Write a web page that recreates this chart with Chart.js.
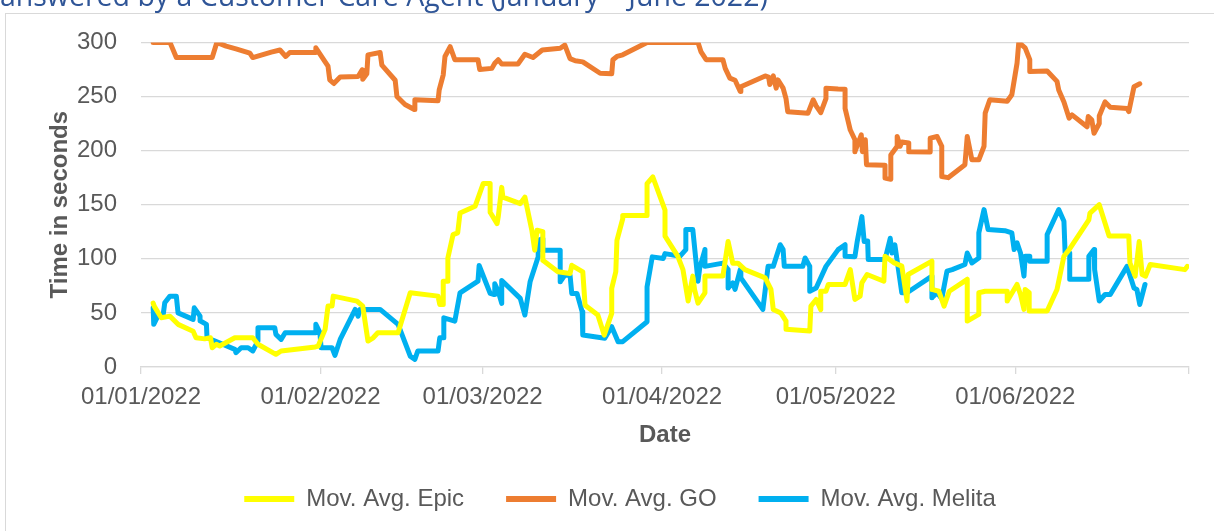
<!DOCTYPE html>
<html><head><meta charset="utf-8">
<script src="https://cdn.jsdelivr.net/npm/chart.js@4.4.1/dist/chart.umd.min.js"></script>
<style>
html,body{margin:0;padding:0;background:#fff;overflow:hidden;width:1214px;height:531px;position:relative}
#title{position:absolute;left:0;top:0;font-family:'Open Sans',sans-serif;font-size:26px;line-height:30px;color:#2F5597;white-space:nowrap}
#mark{display:inline-block;width:0;height:0}
#box{position:absolute;left:5px;top:13px;width:1240px;height:540px;border:1px solid #D9D9D9;background:#fff}
#wrap{position:absolute;left:0;top:-10px;width:1228px;height:528px}
#c{display:block}
</style></head><body>
<div id="box"><div id="wrap"><canvas id="c" width="1228" height="528"></canvas></div></div>
<div id="title">answered by a Customer Care Agent (January – June 2022)<span id="mark"></span></div>
<script>
// ---- data (x = days since 01/01/2022) ----
const monthTickDays = [0, 31, 59, 90, 120, 151, 181];
const monthTickLabels = ['01/01/2022','01/02/2022','01/03/2022','01/04/2022','01/05/2022','01/06/2022',''];
const seriesNames = ['Mov. Avg. Epic','Mov. Avg. GO','Mov. Avg. Melita'];

const epicDays = [
 2.1,2.3,3.5,5.0,6.4,9.0,9.5,11.0,12.0,12.3,
 13.0,13.6,16.2,19.3,20.2,23.3,24.2,30.1,30.6,31.8,
 32.3,33.0,33.2,37.3,38.3,39.2,40.1,40.9,44.4,46.5,
 51.3,51.6,52.2,52.2,52.9,53.0,53.9,54.7,55.1,57.7,
 59.1,60.3,60.3,61.5,61.7,62.3,62.5,65.5,66.3,67.5,
 68.0,68.4,69.4,69.4,72.0,74.1,74.4,76.3,76.7,78.9,
 80.0,81.3,81.3,82.0,82.2,83.2,83.2,87.4,87.4,88.4,
 90.5,90.5,92.7,93.6,94.5,95.3,95.6,96.2,97.4,97.4,
 100.5,101.4,102.2,103.1,104.3,107.8,108.8,109.2,110.5,111.4,
 111.4,115.5,115.7,116.6,117.4,117.4,118.3,118.7,121.6,122.5,
 123.3,124.2,124.5,125.4,128.3,128.5,130.1,131.4,132.3,132.5,
 136.6,136.6,137.8,138.7,139.6,142.7,142.7,144.7,144.7,145.8,
 149.6,149.6,151.3,151.9,152.5,152.7,153.4,153.4,156.5,158.2,
 159.4,160.3,163.7,163.9,165.5,167.2,170.6,170.8,171.7,172.4,
 172.9,173.5,174.3,180.3,180.7];
const epicValues = [
 59,56,45.5,47,39.4,33,27,26,27,17.8,
 21,19.4,27,27,21,11.7,14.8,18.5,19.4,34.8,
 56.3,56.3,65.5,60.9,56.3,24,27,31.7,31.7,68.6,
 65.5,57.8,57.8,79.3,79.3,100.8,122.4,124,142.3,148.5,
 169.5,169.5,143,132.5,138.7,166,157,151,157,126.4,
 108,126.4,125,98.7,88,86.4,94,88,57,48,
 29.5,49.5,72.6,88,117,137,140,140,169.5,175.6,
 145,121,102.4,90,61,84,71.7,59,68.6,84,
 84,116,96,96,90,82.4,71.7,53.2,50,42.4,
 34.8,33.2,56.3,62.4,53,70,70,76.3,76.3,90,
 62.4,65.5,77.8,85.5,79.3,102.4,96.2,93.2,61,85.5,
 97.8,71.7,70,56.3,70,81,42.4,48.6,68.6,70,
 70,61,76.3,67,53.2,71.7,68.6,51.7,51.7,71.7,
 102.4,108.5,136,142.3,150,121,121,96.2,84,116,
 85.5,84,94.7,90,93];

const goDays = [
 2.1,5.0,6.1,12.3,13.1,14.7,16.4,18.8,19.3,22.5,
 24.0,25.0,25.7,30.1,30.2,31.8,32.3,32.6,33.3,34.4,
 37.5,38.2,38.3,39.0,39.2,41.3,41.6,43.9,44.2,45.6,
 47.2,47.3,51.3,51.5,52.2,52.5,53.4,54.2,58.2,58.5,
 60.6,61.1,61.7,62.3,65.1,66.3,67.7,69.3,72.4,73.2,
 74.1,75.0,76.3,79.3,81.3,81.5,82.2,83.2,87.4,96.2,
 96.7,97.6,100.5,100.9,101.7,102.6,103.5,103.6,107.8,108.4,
 108.6,109.2,109.7,110.0,110.9,111.4,111.7,115.2,116.1,116.6,
 117.4,118.3,118.3,120.4,121.6,121.6,122.5,123.3,123.3,124.4,
 124.6,125.1,125.3,128.5,128.5,129.5,129.5,130.6,130.6,131.1,
 131.4,132.6,132.6,136.3,136.3,137.5,138.3,138.3,139.4,142.3,
 142.7,143.5,144.7,145.6,145.8,146.6,149.6,150.4,151.3,151.6,
 152.7,153.5,153.5,156.5,158.2,158.5,159.4,160.3,160.8,163.4,
 163.6,164.2,164.6,165.5,165.5,166.5,167.4,170.3,170.6,171.5,
 172.5];
const goValues = [
 300,300,286,286,300,296.5,294,290,286,291,
 293,287,290.6,290.6,295,282,278,265.4,262,268,
 268.5,274.6,266,271,288.5,290.6,279,265,250,242.6,
 238,247,246,256,270,287,296,284,284,275,
 276,280.7,284,280,280,289,286,293,294.6,297.5,
 285,283,282,271.5,271,284,287,288.5,300,300,
 291.5,284,284,276,267,265,254.6,259,269,268,
 261,269,257.7,265.4,257.7,248,236,234.6,247,241.4,
 235,248,257.7,257,256.8,239,219,210,199,214.6,
 199,210,187,186.5,174.6,173.5,196,204,213,204,
 208,207,199,198.6,211.5,213,204,176,175,187,
 213,191.5,191.5,204,234.6,247,245.6,251.6,280.7,300,
 295,284,273,273.6,264,256,245,230,233,222,
 231.5,228.5,216,225,232,245,240,239,236,259,
 261.7];

const melitaDays = [
 2.1,2.2,2.9,3.8,4.1,5.0,6.1,6.4,9.0,9.2,
 10.2,10.2,11.3,11.4,12.8,16.2,16.4,17.3,18.5,19.3,
 20.2,20.2,23.1,23.3,24.2,24.9,30.1,30.2,30.9,31.1,
 33.0,33.5,34.4,37.0,37.5,37.8,41.3,44.4,46.5,47.3,
 47.8,51.3,51.6,52.2,52.3,54.2,55.1,58.2,58.4,60.3,
 61.0,61.1,61.7,62.3,62.3,65.5,66.3,67.2,68.6,68.6,
 69.4,69.4,72.4,72.4,73.2,74.1,74.4,75.3,76.2,76.3,
 80.1,81.3,82.4,83.2,87.4,87.4,88.3,90.2,90.5,93.1,
 94.1,94.1,95.3,96.2,96.5,97.4,97.4,100.5,101.4,101.4,
 102.2,102.6,103.5,103.6,107.4,108.3,109.2,110.4,110.9,111.1,
 114.3,114.7,115.5,115.5,116.6,118.3,120.4,121.6,121.6,123.3,
 123.7,124.5,124.9,125.5,125.6,128.5,129.4,129.7,130.2,131.4,
 132.3,136.6,136.6,137.5,138.3,139.2,140.1,142.3,142.7,143.5,
 144.7,144.7,145.6,146.3,149.2,150.4,150.8,151.3,151.9,152.5,
 152.7,153.5,153.5,156.5,156.5,158.5,159.4,159.6,160.4,160.4,
 163.7,163.7,164.6,164.7,165.5,166.5,167.4,170.3,171.5,172.0,
 172.5,173.4];
const melitaValues = [
 54.7,39.4,47,47,59.3,65.5,65.5,50,44,54.7,
 47,42.7,39.4,27,24,16.3,13.2,17.8,17.8,14.8,
 24,36.3,36.3,30.1,25.5,31.7,31.7,39.4,31.7,17.8,
 17.8,10.8,25.5,53.2,47,53.2,53.2,39.4,10,7,
 14.8,14.8,27,27,45.5,42.4,68.6,79.3,93.8,68,
 67,77,70,58.8,80,63.4,48,78.7,101.8,117,
 118.6,108,108,78.7,84.9,84.9,68,68,51,29.5,
 26.5,37.2,23.4,23.4,41.8,74,101.8,100.3,104.8,102.4,
 108.5,127,127,79.3,91.6,108.5,93,96,90,73,
 77.8,71.7,90,82.4,53.2,93,93,113,108.5,93,
 93,100.8,93,70,73,93,108.5,113,102.4,102,
 116,139,116,116.5,99.3,99.3,119,105.4,113,68.6,
 68.6,84,64,68.6,63,88.6,90,94.7,105.4,96.2,
 100.8,124,145.5,127,126,124,108.5,114.7,105.4,84,
 102.4,102.4,97.8,97.8,122.4,145.5,134.7,105.4,105.4,81,
 81,102.4,108.5,90,61,67,67,93,73,71.7,
 57.8,76.3];

// ---- title placement ----
(function(){
  const t = document.getElementById('title');
  const w = t.getBoundingClientRect().width;
  t.style.fontSize = (26 * 768 / w) + 'px';
  const m = document.getElementById('mark').getBoundingClientRect().top;
  t.style.top = (5.5 - m) + 'px';
})();

const toPoints = (d, v) => d.map((x, i) => ({x: x, y: v[i]}));
const FONT = "'Liberation Sans', Arial, sans-serif";
const GREY = '#595959';

const mk = (label, color, d, v) => ({
  label, data: toPoints(d, v), borderColor: color, backgroundColor: color,
  borderWidth: 5, pointRadius: 0, tension: 0, borderJoinStyle: 'round', borderCapStyle: 'round'
});

new Chart(document.getElementById('c'), {
  type: 'line',
  data: { datasets: [
    mk(seriesNames[0], '#FFFF00', epicDays, epicValues),
    mk(seriesNames[1], '#ED7D31', goDays, goValues),
    mk(seriesNames[2], '#00B0F0', melitaDays, melitaValues)
  ]},
  options: {
    responsive: false, animation: false, devicePixelRatio: 1,
    layout: { padding: { left: 0, right: 0, top: 0, bottom: 11 } },
    plugins: {
      tooltip: { enabled: false },
      legend: {
        position: 'bottom',
        labels: {
          boxWidth: 50, boxHeight: 6, padding: 42, color: GREY,
          font: { family: FONT, size: 24 },
          generateLabels(chart) {
            return chart.data.datasets.map((ds, i) => ({
              text: ds.label, fillStyle: ds.borderColor, strokeStyle: ds.borderColor,
              lineWidth: 0, hidden: false, datasetIndex: i, fontColor: GREY
            }));
          }
        }
      }
    },
    scales: {
      x: {
        type: 'linear', min: 0, max: 181,
        afterBuildTicks: s => { s.ticks = monthTickDays.map(v => ({ value: v })); },
        afterFit: s => { s.height = 78; },
        ticks: { autoSkip: false, maxRotation: 0, padding: 9, color: GREY,
          font: { family: FONT, size: 24 },
          callback: (v, i) => monthTickLabels[i] },
        grid: { drawOnChartArea: false, drawTicks: true, tickLength: 7, color: '#D9D9D9', lineWidth: 1.3 },
        border: { display: true, color: '#D9D9D9', width: 1.3 },
        title: { display: true, text: 'Date', color: GREY, padding: { top: 0, bottom: -5 },
          font: { family: FONT, size: 24, weight: 'bold' } }
      },
      y: {
        min: 0, max: 300,
        afterFit: s => { s.width = 135; },
        ticks: { stepSize: 50, padding: 24, color: GREY, font: { family: FONT, size: 24 } },
        grid: { drawTicks: false, color: '#D9D9D9', lineWidth: 1.3 },
        border: { display: false },
        title: { display: true, text: 'Time in seconds', color: GREY, padding: { top: 40, bottom: 0 },
          font: { family: FONT, size: 24, weight: 'bold' } }
      },
      yR: {
        position: 'right', min: 0, max: 1, display: true,
        afterFit: s => { s.width = 45; },
        ticks: { display: false }, grid: { display: false }, border: { display: false }
      }
    }
  }
});
</script>
</body></html>
